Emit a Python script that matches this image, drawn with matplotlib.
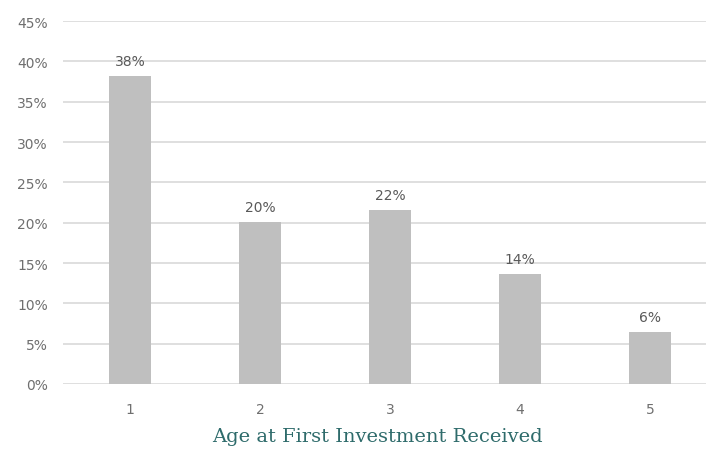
import matplotlib.pyplot as plt
from matplotlib.ticker import PercentFormatter

ages = [1, 2, 3, 4, 5]
share = [38.2, 20.1, 21.6, 13.6, 6.5]
y_ticks = [0, 5, 10, 15, 20, 25, 30, 35, 40, 45]

fig = plt.figure(figsize=(7.07, 4.52), dpi=100)
ax = fig.add_axes([63 / 707, 1 - 385 / 452, 643 / 707, 363 / 452])

bars = ax.bar(ages, share, width=0.32, color="#bfbfbf", zorder=2)
for b, v in zip(bars, share):
    ax.text(b.get_x() + b.get_width() / 2, v + 1.0, f"{v:.0f}%",
            ha="center", va="bottom", fontsize=10, color="#595959",
            family="DejaVu Sans")

ax.set_xlim(0.485, 5.43)
ax.set_ylim(0, 45)
ax.set_yticks(y_ticks)
ax.yaxis.set_major_formatter(PercentFormatter(decimals=0))
ax.set_xticks(ages)
ax.grid(axis="y", color="#d9d9d9", linewidth=1.2, zorder=0)
ax.tick_params(length=0, labelsize=10, colors="#6f6f6f")
ax.tick_params(axis="y", pad=11)
ax.tick_params(axis="x", pad=13)
for lab in ax.get_xticklabels() + ax.get_yticklabels():
    lab.set_family("DejaVu Sans")
for s in ax.spines.values():
    s.set_visible(False)

fig.text(377 / 707, 1 - 437 / 452, "Age at First Investment Received",
         ha="center", va="center", fontsize=14, color="#2e6b6b",
         family="DejaVu Serif")

fig.savefig("out.png", dpi=100)
